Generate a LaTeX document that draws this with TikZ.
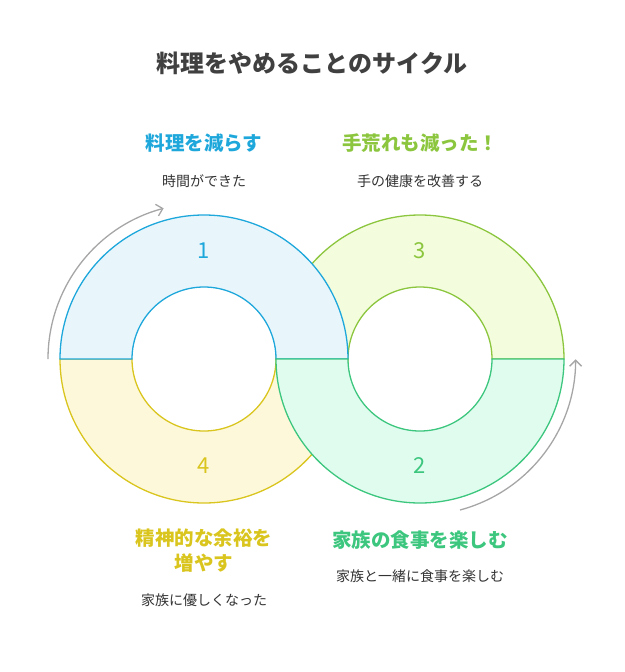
\documentclass[tikz,border=0pt]{standalone}
\usepackage{fontspec}
\setmainfont{Noto Sans CJK JP}
\usetikzlibrary{arrows.meta}
\definecolor{bleuT}{HTML}{1EA7DB}
\definecolor{bleuF}{HTML}{E8F6FC}
\definecolor{vertT}{HTML}{8CC63F}
\definecolor{vertF}{HTML}{F3FCDD}
\definecolor{mentheT}{HTML}{3CC67E}
\definecolor{mentheF}{HTML}{E0FCEE}
\definecolor{jauneT}{HTML}{D9C51E}
\definecolor{jauneF}{HTML}{FEF8DA}
\begin{document}
\begin{tikzpicture}[x=1pt,y=-1pt]
		\tikzstyle{titre}=[font=\fontsize{24}{28}\selectfont\bfseries, text=black!75]
		\tikzstyle{etiquette}=[font=\fontsize{19.5}{25}\selectfont\bfseries, align=center]
		\tikzstyle{detail}=[font=\fontsize{14}{17}\selectfont, text=black!80]
		\tikzstyle{numero}=[font=\fontsize{22}{26}\selectfont]
		\tikzstyle{anneau}=[line width=1.3pt]
		\tikzstyle{fleche}=[gray!70, line width=1.3pt, -{Straight Barb[length=6pt]}]
	
		\useasboundingbox (0,0) rectangle (624,672);
		\node [titre] (titre) at (312,63) {料理をやめることのサイクル};
		% half rings
		\draw [anneau, vertT, fill=vertF] (276,359) arc (180:360:144) -- (492,359) arc (360:180:72) -- cycle;
		\draw [anneau, jauneT, fill=jauneF] (348,359) arc (0:180:144) -- (132,359) arc (180:0:72) -- cycle;
		\draw [anneau, bleuT, fill=bleuF] (60,359) arc (180:360:144) -- (276,359) arc (360:180:72) -- cycle;
		\draw [anneau, mentheT, fill=mentheF] (564,359) arc (0:180:144) -- (348,359) arc (180:0:72) -- cycle;
		% numbers
		\node [numero, text=bleuT] (n1) at (204,251) {1};
		\node [numero, text=mentheT] (n2) at (420,466) {2};
		\node [numero, text=vertT] (n3) at (420,251) {3};
		\node [numero, text=jauneT] (n4) at (204,466) {4};
		% cycle arrows
		\draw [fleche] (48,359) arc (180:255:156);
		\draw [fleche] (460,510) arc (75:0:156);
		% texts
		\node [etiquette, text=bleuT] (reduire) at (204,143) {料理を減らす};
		\node [detail] (temps) at (204,181) {時間ができた};
		\node [etiquette, text=vertT] (mains) at (420,143) {手荒れも減った！};
		\node [detail] (sante) at (420,181) {手の健康を改善する};
		\node [etiquette, text=mentheT] (repas) at (420,540) {家族の食事を楽しむ};
		\node [detail] (ensemble) at (420,576) {家族と一緒に食事を楽しむ};
		\node [etiquette, text=jauneT] (esprit) at (204,551) {精神的な余裕を\\増やす};
		\node [detail] (gentil) at (204,600) {家族に優しくなった};
\end{tikzpicture}
\end{document}
